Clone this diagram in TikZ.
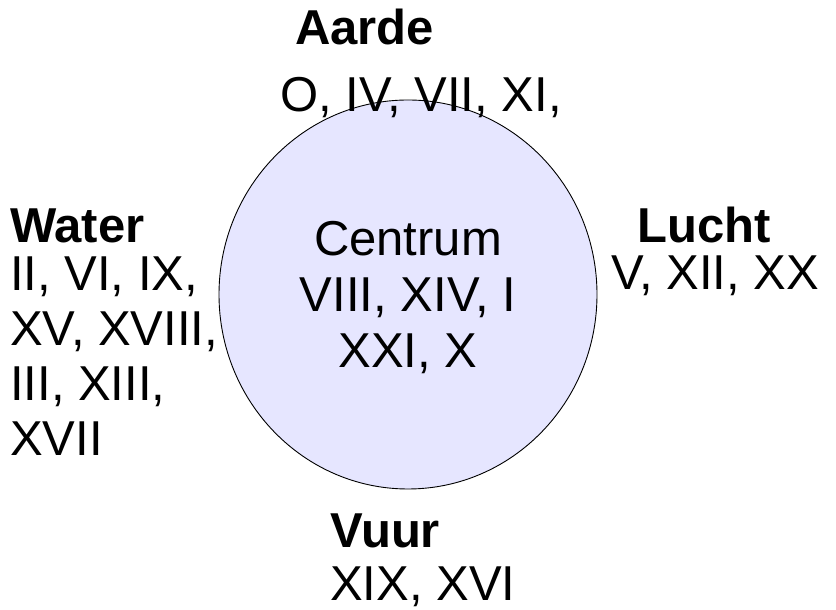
\documentclass[tikz,border=0pt]{standalone}
\usepackage{fontspec}
\setmainfont{Liberation Sans}
\usepackage{tikz}
\usetikzlibrary{positioning}

\definecolor{centrumfill}{RGB}{230,230,255}

\tikzset{
  element/.style={anchor=base west, inner sep=0pt, font=\fontsize{49}{55}\selectfont\bfseries},
  kaarten/.style={anchor=base west, inner sep=0pt, align=left, font=\fontsize{49}{55}\selectfont},
}

\begin{document}
\begin{tikzpicture}[x=1pt, y=1pt]
    \useasboundingbox (0,0) rectangle (836,610);

    % Centrum
    \draw[fill=centrumfill, line width=0.9pt] (408,315.5) ellipse (189 and 194.5);
    \node[inner sep=0pt, align=center, anchor=base, font=\fontsize{49}{56}\selectfont] (centrum) at (408,242)
        {Centrum\\VIII, XIV, I\\XXI, X};

    % Aarde
    \node[element] (aarde) at (295,565) {Aarde};
    \node[kaarten] (aardekaarten) at (280,498) {O, IV, VII, XI,};

    % Water (base = last line)
    \node[element] (water) at (10,367) {Water};
    \node[kaarten] (waterkaarten) at (10,154) {II, VI, IX,\\XV, XVIII,\\III, XIII,\\XVII};

    % Lucht
    \node[element] (lucht) at (637,367) {Lucht};
    \node[kaarten] (luchtkaarten) at (611,320) {V, XII, XX};

    % Vuur
    \node[element] (vuur) at (330,62) {Vuur};
    \node[kaarten] (vuurkaarten) at (330,9) {XIX, XVI};
\end{tikzpicture}
\end{document}
